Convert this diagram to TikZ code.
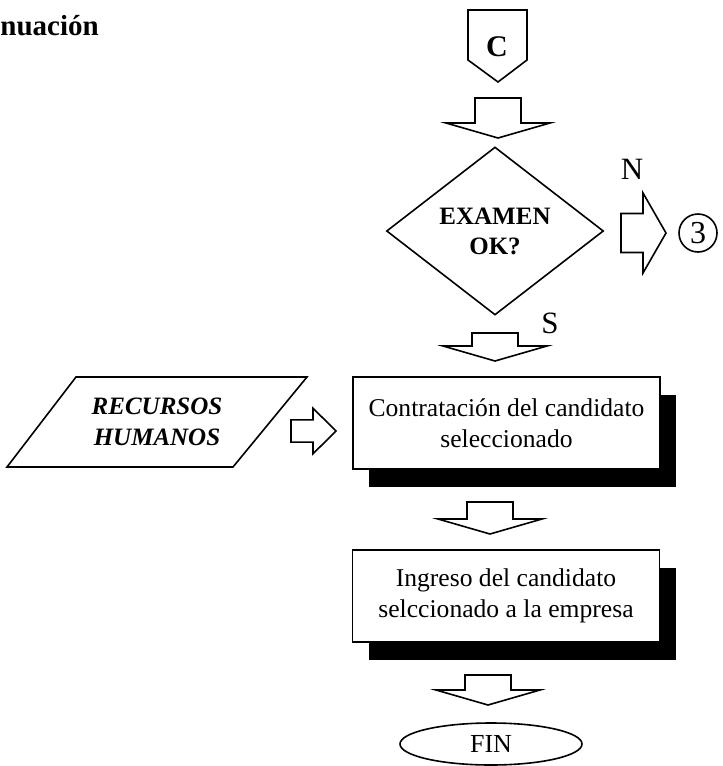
\documentclass[tikz,border=0pt]{standalone}
\usepackage{fontspec}
\setmainfont{Liberation Serif}
\usetikzlibrary{shapes.geometric,shadows}

\tikzset{
  linea/.style={line width=0.8pt},
  caja/.style={draw,linea,fill=white,minimum width=153.5pt,minimum height=46pt,align=center,
    font=\fontsize{12.8}{15.5}\selectfont,
    drop shadow={shadow xshift=8pt,shadow yshift=-9pt,opacity=1,fill=black}},
  flechab/.pic={\draw[linea] (-23,{-(#1+15)/2}) -- (23,{-(#1+15)/2}) -- (23,{(#1+15)/2-15})
    -- (52,{(#1+15)/2-15}) -- (0,{(#1+15)/2}) -- (-52,{(#1+15)/2-15}) -- (-23,{(#1+15)/2-15}) -- cycle;},
  flechad/.pic={\draw[linea] (-22,-19.5) -- (0,-19.5) -- (0,-40) -- (23,0) -- (0,40) -- (0,19.5) -- (-22,19.5) -- cycle;}
}

\begin{document}
\begin{tikzpicture}[x=0.5pt,y=-0.5pt]
\useasboundingbox (0,0) rectangle (723,766);
\node[anchor=base west,inner sep=0,font=\bfseries\fontsize{14.5}{17}\selectfont] (titulo) at (0,35) {nuación};
% conector C
\draw[linea] (468,10) -- (527,10) -- (527,60) -- (498,82) -- (468,60) -- cycle;
\node[font=\bfseries\fontsize{15}{18}\selectfont] (c) at (497,47) {C};
\pic at (498,118) {flechab=25};
% decision
\node[draw,linea,diamond,minimum width=108.5pt,minimum height=84pt,inner sep=0,align=center,
  font=\bfseries\fontsize{12.5}{15}\selectfont] (exam) at (495,231) {EXAMEN\\OK?};
\node[font=\fontsize{15.5}{18}\selectfont] (no) at (632,169) {N};
\pic at (643,233) {flechad};
\node[draw,linea,circle,minimum size=19pt,inner sep=0,font=\fontsize{16}{18}\selectfont] (tres) at (698,233) {3};
\node[font=\fontsize{15.5}{18}\selectfont] (si) at (550,323) {S};
\pic at (495,347) {flechab=13};
% entrada
\draw[linea] (76,377) -- (307,377) -- (233,467) -- (7,467) -- cycle;
\node[align=center,font=\bfseries\itshape\fontsize{12.5}{15.5}\selectfont] (rrhh) at (157,422) {RECURSOS\\HUMANOS};
\pic[yscale=0.57] at (313,431) {flechad};
% procesos
\node[caja] (contrat) at (506.5,423) {Contratación del candidato\\seleccionado};
\pic at (490,518) {flechab=17};
\node[caja] (ingreso) at (506,596) {Ingreso del candidato\\selccionado a la empresa};
\pic at (488,690) {flechab=15};
\node[draw,linea,ellipse,minimum width=91pt,minimum height=21pt,inner sep=0,
  font=\fontsize{13}{15}\selectfont] (fin) at (491,744) {FIN};
\end{tikzpicture}
\end{document}
